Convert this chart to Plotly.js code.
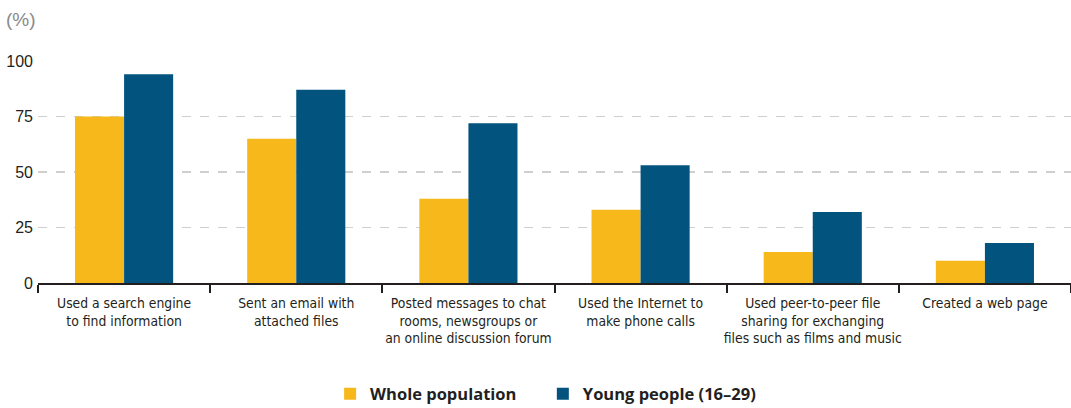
<!DOCTYPE html>
<html><head><meta charset="utf-8">
<script src="https://cdn.plot.ly/plotly-3.0.1.min.js"></script>
<style>html,body{margin:0;padding:0;background:#fff}#chart{width:1071px;height:408px}</style>
</head><body><div id="chart"></div>
<script>
const categories = [
  "Used a search engine<br>to find information",
  "Sent an email with<br>attached files",
  "Posted messages to chat<br>rooms, newsgroups or<br>an online discussion forum",
  "Used the Internet to<br>make phone calls",
  "Used peer-to-peer file<br>sharing for exchanging<br>files such as films and music",
  "Created a web page"
];
const seriesNames = ["Whole population", "Young people (16\u201329)"];
const wholePopulation = [75, 65, 38, 33, 14, 10];
const youngPeople = [94, 87, 72, 53, 32, 18];
const yTicks = [0, 25, 50, 75, 100];

const FONT = "'DejaVu Sans Condensed', 'Liberation Sans Narrow', Roboto, 'Liberation Sans', Arial, sans-serif";
const PAD = "\u00a0\u00a0\u00a0\u00a0\u00a0";

const traces = [
  {type: "bar", name: seriesNames[0] + PAD, x: categories, y: wholePopulation,
   marker: {color: "#F7B81C"}},
  {type: "bar", name: seriesNames[1], x: categories, y: youngPeople,
   marker: {color: "#02547F"}}
];

const layout = {
  width: 1071, height: 408,
  margin: {l: 38, r: 0, t: 61, b: 125},
  paper_bgcolor: "#fff", plot_bgcolor: "#fff",
  barmode: "group", bargap: 0.43, bargroupgap: 0,
  font: {family: FONT, color: "#231f20", size: 14},
  xaxis: {
    type: "category", tickson: "boundaries", ticks: "outside", ticklen: 8, tickwidth: 2,
    tickcolor: "#231f20", showline: true, linecolor: "#231f20", linewidth: 2,
    showgrid: false, tickangle: 0, automargin: false, ticklabelstandoff: 6,
    tickfont: {family: FONT, size: 13.8, color: "#231f20"},
    fixedrange: true
  },
  yaxis: {
    range: [0, 100], tickvals: yTicks, ticktext: yTicks.map(String),
    showgrid: true, gridcolor: "#cfcfcf", griddash: "dash", gridwidth: 1.3,
    zeroline: false, showline: false, ticks: "", ticklabelstandoff: 4, automargin: false,
    tickfont: {family: "'Liberation Sans', Arial, sans-serif", size: 16, color: "#231f20"},
    fixedrange: true
  },
  showlegend: true,
  legend: {
    orientation: "h", x: 0.4914, xanchor: "center", xref: "paper",
    y: 14 / 408, yanchor: "middle", yref: "container",
    font: {family: "'Open Sans', 'Liberation Sans', sans-serif", size: 16.5, color: "#231f20", weight: "bold"},
    itemwidth: 30, traceorder: "normal"
  },
  annotations: [
    {xref: "paper", yref: "paper", x: -0.033, y: 1.13, xanchor: "left", yanchor: "bottom",
     text: "(%)", showarrow: false,
     font: {family: "'Liberation Sans', Arial, sans-serif", size: 19, color: "#8a8a8a"}}
  ]
};

Plotly.newPlot("chart", traces, layout, {displayModeBar: false, staticPlot: true});
</script></body></html>
